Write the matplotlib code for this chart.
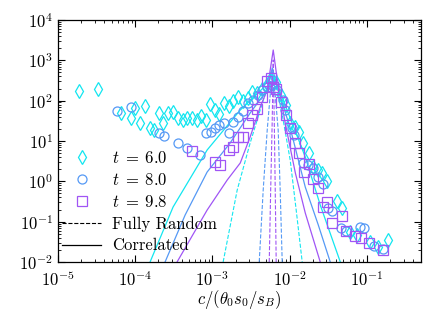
import matplotlib
matplotlib.use("Agg")
import matplotlib.pyplot as plt
import numpy as np

plt.rcParams['mathtext.fontset'] = 'cm'
plt.rcParams['font.family'] = 'serif'
plt.rcParams['font.serif'] = ['cmr10', 'DejaVu Serif']
plt.rcParams['axes.formatter.use_mathtext'] = True

# ---- data: scatter series ----
d60_x = [1.87e-5, 3.30e-5, 6.56e-5, 8.85e-5, 9.98e-5, 1.16e-4, 1.34e-4, 1.56e-4, 1.76e-4, 2.04e-4,
         2.30e-4, 2.67e-4, 3.10e-4, 3.60e-4, 4.18e-4, 4.71e-4, 5.47e-4, 6.35e-4, 7.16e-4, 8.31e-4,
         9.36e-4, 1.09e-3, 1.22e-3, 1.42e-3, 1.65e-3, 1.86e-3, 2.16e-3, 2.51e-3, 2.91e-3, 3.28e-3,
         3.81e-3, 4.42e-3, 4.99e-3, 5.62e-3, 6.72e-3, 7.80e-3, 9.06e-3, 1.02e-2, 1.19e-2, 1.34e-2,
         1.51e-2, 1.80e-2, 2.03e-2, 2.36e-2, 2.65e-2, 3.08e-2, 4.16e-2, 4.83e-2, 6.12e-2, 7.55e-2,
         0.111, 0.141, 0.190]
d60_y = [174, 195, 49.4, 37.2, 65.8, 27.9, 73.8, 21.0, 18.7, 49.4,
         27.9, 49.4, 52.3, 37.2, 33.1, 37.2, 37.2, 33.1, 41.7, 33.1,
         82.6, 58.6, 46.7, 87.5, 73.8, 98, 123, 98, 116, 164,
         155, 195, 231, 325, 290, 138, 78, 27.9, 22.2, 16.7,
         8.91, 5.04, 2.26, 1.91, 1.61, 1.02, 0.325, 0.218, 0.0554, 0.0466,
         0.0313, 0.0235, 0.0351]

d80_x = [5.82e-5, 8.85e-5, 2.04e-4, 2.37e-4, 3.60e-4, 4.71e-4, 6.95e-4, 8.31e-4, 9.64e-4, 1.09e-3,
         1.22e-3, 1.42e-3, 1.65e-3, 1.86e-3, 2.16e-3, 2.51e-3, 2.91e-3, 3.38e-3, 3.93e-3, 4.42e-3,
         5.14e-3, 5.97e-3, 6.92e-3, 8.28e-3, 8.79e-3, 1.08e-2, 1.15e-2, 1.51e-2, 1.75e-2, 2.03e-2,
         2.36e-2, 2.73e-2, 3.18e-2, 3.58e-2, 4.69e-2, 5.44e-2, 8.26e-2, 9.31e-2, 0.125, 0.164]
d80_y = [55.4, 69.7, 15.8, 13.3, 8.91, 6.70, 4.49, 15.8, 16.7, 21.0,
         24.9, 27.9, 15.8, 29.6, 39.3, 55.4, 87.5, 104, 138, 184,
         218, 245, 184, 104, 58.6, 21.0, 14.1, 2.85, 2.54, 2.14,
         1.28, 0.86, 0.218, 0.184, 0.0696, 0.0586, 0.0736, 0.0696, 0.0249, 0.0210]

d98_x = [5.47e-4, 1.09e-3, 1.26e-3, 1.65e-3, 1.86e-3, 2.16e-3, 2.51e-3, 2.91e-3, 3.28e-3, 3.81e-3,
         4.42e-3, 5.14e-3, 5.79e-3, 6.15e-3, 6.72e-3, 7.80e-3, 9.06e-3, 1.02e-2, 1.19e-2, 1.34e-2,
         1.55e-2, 1.80e-2, 2.03e-2, 2.36e-2, 2.73e-2, 3.08e-2, 3.58e-2, 4.83e-2, 5.44e-2, 7.11e-2,
         8.51e-2, 0.108, 0.164]
d98_y = [5.65, 3.01, 2.54, 5.98, 7.10, 12.6, 12.6, 27.9, 44.1, 62.1,
         123, 307, 365, 218, 195, 93, 44.1, 21.0, 8.91, 5.04,
         1.70, 2.69, 1.14, 0.68, 0.231, 0.307, 0.093, 0.138, 0.0586, 0.0441,
         0.0393, 0.0296, 0.0198]

# ---- data: model curves (correlated = solid, fully random = dashed) ----
c60_x = [1.56e-4, 3.10e-4, 8.56e-4, 2.30e-3, 4.56e-3, 5.79e-3, 6.92e-3, 1.02e-2, 1.60e-2, 2.50e-2, 4.55e-2]
c60_y = [0.01, 0.231, 5.98, 58.6, 206, 514, 245, 37.2, 4.01, 0.259, 0.01]
c80_x = [2.44e-4, 4.44e-4, 8.56e-4, 1.70e-3, 3.09e-3, 5.14e-3, 5.97e-3, 7.13e-3, 1.02e-2, 1.60e-2, 2.36e-2, 3.37e-2]
c80_y = [0.01, 0.146, 1.70, 8.91, 49.4, 184, 646, 184, 21.0, 0.72, 0.0826, 0.01]
c98_x = [3.49e-4, 8.56e-4, 1.56e-3, 2.30e-3, 3.09e-3, 4.17e-3, 5.14e-3, 6.15e-3, 6.72e-3, 7.57e-3, 8.79e-3, 1.19e-2, 1.60e-2, 2.50e-2]
c98_y = [0.01, 0.194, 1.08, 2.85, 12.6, 69.7, 184, 1800, 514, 138, 27.9, 1.61, 0.164, 0.01]

r60_x = [1.38e-3, 2.10e-3, 3.09e-3, 4.17e-3, 5.14e-3, 5.79e-3, 6.72e-3, 8.28e-3, 1.02e-2, 1.22e-2, 1.46e-2]
r60_y = [0.01, 0.61, 8.91, 58.6, 206, 433, 245, 33.1, 3.38, 0.194, 0.01]
r80_x = [4.05e-3, 4.56e-3, 5.14e-3, 5.62e-3, 5.97e-3, 6.53e-3, 7.13e-3, 7.57e-3, 8.04e-3]
r80_y = [0.01, 0.61, 18.7, 138, 514, 138, 18.7, 0.61, 0.01]
r98_x = [5.46e-3, 5.70e-3, 5.97e-3, 6.15e-3, 6.34e-3, 6.53e-3, 6.72e-3]
r98_y = [0.01, 0.61, 33.1, 1020, 33.1, 0.61, 0.01]

labels = [r'$t\;=\;6.0$', r'$t\;=\;8.0$', r'$t\;=\;9.8$']
colors = ['#12e6f0', '#5599f5', '#a055f5']

fig = plt.figure(figsize=(4.35, 3.17), dpi=100)
ax = fig.add_axes([0.1333, 0.1735, 0.8337, 0.7635])

ax.plot(r60_x, r60_y, '--', color=colors[0], lw=0.8)
ax.plot(r80_x, r80_y, '--', color=colors[1], lw=0.8)
ax.plot(r98_x, r98_y, '--', color=colors[2], lw=0.8)
ax.plot(c60_x, c60_y, '-', color=colors[0], lw=0.9)
ax.plot(c80_x, c80_y, '-', color=colors[1], lw=0.9)
ax.plot(c98_x, c98_y, '-', color=colors[2], lw=0.9)

h1, = ax.plot(d60_x, d60_y, 'd', mfc='none', mec=colors[0], ms=7, mew=0.9, ls='none', label=labels[0])
h2, = ax.plot(d80_x, d80_y, 'o', mfc='none', mec=colors[1], ms=6.5, mew=0.9, ls='none', label=labels[1])
h3, = ax.plot(d98_x, d98_y, 's', mfc='none', mec=colors[2], ms=6.5, mew=0.9, ls='none', label=labels[2])
h4, = ax.plot([], [], '--', color='black', lw=0.8, label='Fully Random')
h5, = ax.plot([], [], '-', color='black', lw=0.9, label='Correlated')

ax.set_xscale('log')
ax.set_yscale('log')
ax.set_xlim(1e-5, 0.5)
ax.set_ylim(1e-2, 1e4)
ax.xaxis.set_major_locator(matplotlib.ticker.LogLocator(base=10, numticks=20))
ax.xaxis.set_minor_locator(matplotlib.ticker.LogLocator(base=10, subs=np.arange(2, 10), numticks=20))
ax.yaxis.set_major_locator(matplotlib.ticker.LogLocator(base=10, numticks=20))
ax.yaxis.set_minor_locator(matplotlib.ticker.LogLocator(base=10, subs=np.arange(2, 10), numticks=20))
ax.xaxis.set_minor_formatter(matplotlib.ticker.NullFormatter())
ax.yaxis.set_minor_formatter(matplotlib.ticker.NullFormatter())
ax.tick_params(which='both', direction='in', top=True, right=True, labelsize=12)
ax.tick_params(axis='x', which='major', pad=5.5)
ax.tick_params(which='major', length=5, width=0.8)
ax.tick_params(which='minor', length=2.5, width=0.6)
for s in ax.spines.values():
    s.set_linewidth(0.9)

ax.set_xlabel(r'$c/(\theta_0 s_0/s_B)$', fontsize=12, labelpad=-1)

leg = ax.legend(handles=[h1, h2, h3, h4, h5], loc='lower left', bbox_to_anchor=(-0.02, -0.013),
                frameon=False, numpoints=1, fontsize=12, handlelength=2.3,
                handletextpad=0.7, labelspacing=0.37, borderaxespad=0.3)

fig.savefig('out.png', dpi=100)
